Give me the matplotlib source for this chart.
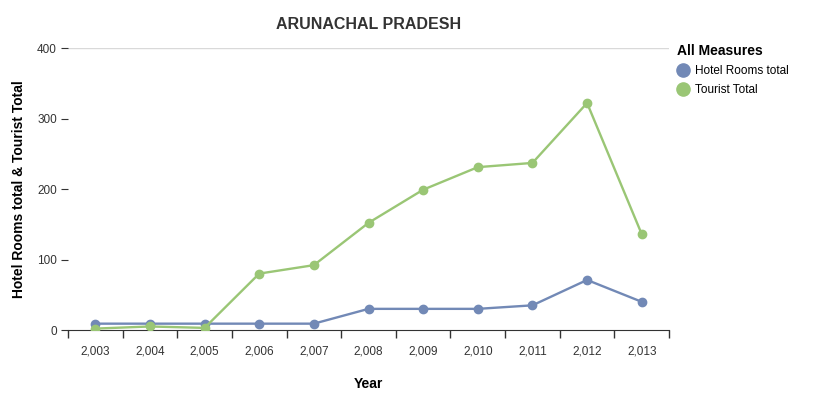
import matplotlib.pyplot as plt
import numpy as np

plt.rcParams['font.family'] = ['Liberation Sans', 'DejaVu Sans']

years = ['2,003', '2,004', '2,005', '2,006', '2,007', '2,008', '2,009',
         '2,010', '2,011', '2,012', '2,013']
hotel_rooms = [9, 9, 9, 9, 9, 30, 30, 30, 35, 71, 40]
tourist_total = [2, 5, 3, 80, 92, 152, 199, 231, 237, 322, 136]

blue = '#7289b6'
green = '#9ac675'

fig = plt.figure(figsize=(8.16, 4.19), dpi=100)
ax = fig.add_axes([0.0833, 0.2124, 0.7366, 0.673])

x = np.arange(len(years)) + 0.5
ax.plot(x, hotel_rooms, color=blue, lw=1.7, marker='o', ms=6, label='Hotel Rooms total', zorder=3)
ax.plot(x, tourist_total, color=green, lw=1.7, marker='o', ms=6, label='Tourist Total', zorder=3)

ax.set_xlim(0, len(years))
ax.set_ylim(0, 400)
ax.axhline(400, color='#d9d9d9', lw=1, zorder=1)

# band boundaries as major ticks, labels on the centres
ax.set_xticks(np.arange(len(years) + 1))
ax.set_xticklabels([])
ax.set_xticks(x, minor=True)
ax.set_xticklabels(years, minor=True, fontsize=8.5, color='#333333')
ax.tick_params(axis='x', which='major', length=6, color='#333333', width=1)
ax.tick_params(axis='x', which='minor', length=0, pad=11)

ax.set_yticks([0, 100, 200, 300, 400])
ax.tick_params(axis='y', length=5, color='#333333', labelsize=8.5, labelcolor='#333333', pad=3)

for s in ['top', 'right', 'left']:
    ax.spines[s].set_visible(False)
ax.spines['bottom'].set_color('#333333')

ax.set_xlabel('Year', fontsize=10, fontweight='bold', labelpad=14)
ax.set_ylabel('Hotel Rooms total & Tourist Total', fontsize=10, fontweight='bold', labelpad=8)
ax.set_title('ARUNACHAL PRADESH', fontsize=11.5, fontweight='bold', color='#333333', pad=14)

leg = ax.legend(loc='upper left', bbox_to_anchor=(1.0, 1.045), frameon=False,
                title='All Measures', fontsize=8.5, handlelength=1.0,
                handletextpad=0.5, labelspacing=0.6, borderaxespad=0.3)
leg.get_title().set_fontweight('bold')
leg.get_title().set_fontsize(10)
leg._legend_box.align = 'left'
for h in leg.legend_handles:
    h.set_linestyle('none')
    h.set_markersize(9.5)

fig.savefig('out.png', dpi=100)
